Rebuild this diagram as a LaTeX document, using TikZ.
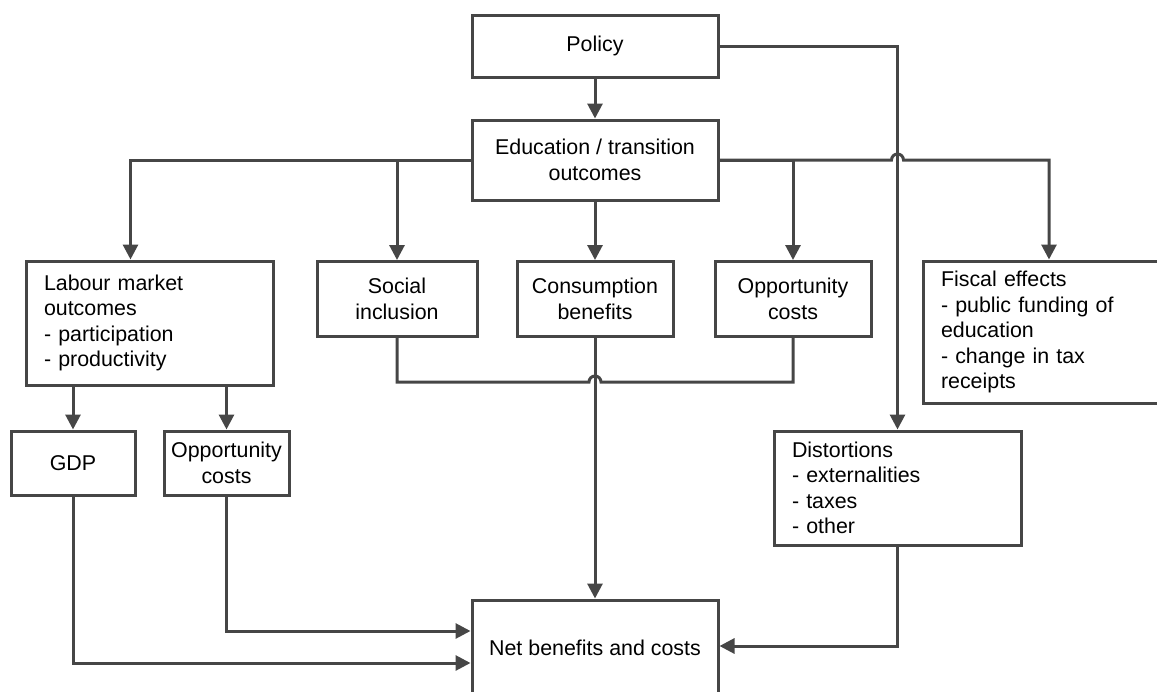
\documentclass[tikz,border=0pt]{standalone}
\usepackage{fontspec}
\setmainfont{Liberation Sans}
\usepackage{xcolor}
\usetikzlibrary{arrows.meta}

\definecolor{linegray}{HTML}{464646}

\begin{document}
\begin{tikzpicture}[x=1pt, y=-1pt,
    box/.style={draw=linegray, line width=3pt, rectangle, inner sep=0pt, align=center,
      font=\fontsize{21.4}{25.5}\selectfont},
    lbox/.style={box, align=left, inner xsep=18pt},
    link/.style={draw=linegray, line width=3pt},
    arr/.style={link, -{Triangle[length=15pt,width=15pt]}}]
  % \draw[help lines, gray!50, very thin] (0,0) grid[step=50] (1157,691);
  \useasboundingbox (0,0) rectangle (1157,691);

  \node[box, minimum width=246, minimum height=62] (policy) at (595,46) {Policy};
  \node[box, minimum width=246, minimum height=80] (edu) at (595,160) {Education / transition\\outcomes};

  \node[lbox, text width=211, minimum height=124] (labour) at (149.5,323)
    {Labour market\\outcomes\\- participation\\- productivity};
  \node[box, minimum width=160, minimum height=75] (social) at (397,299) {Social\\inclusion};
  \node[box, minimum width=156, minimum height=75] (cons) at (595,299) {Consumption\\benefits};
  \node[box, minimum width=156, minimum height=75] (opp) at (793,299) {Opportunity\\costs};
  \node[lbox, text width=216, minimum height=142] (fiscal) at (1049,332)
    {Fiscal effects\\- public funding of\\education\\- change in tax\\receipts};

  \node[box, minimum width=124, minimum height=64] (gdp) at (73,463) {GDP};
  \node[box, minimum width=125, minimum height=64] (oppb) at (226.5,463) {Opportunity\\costs};
  \node[lbox, text width=211, minimum height=114] (dist) at (897.5,488)
    {Distortions\\- externalities\\- taxes\\- other};

  \node[box, minimum width=246, minimum height=96] (net) at (595,648) {Net benefits and costs};

  \coordinate (j1) at (dist.north |- edu.east);
  \coordinate (j2) at (595,382);

  % top part
  \draw[arr] (policy) -- (edu);
  \draw[arr] (policy.east) -| (dist.north);
  \draw[arr] (edu.west) -| ([xshift=-19pt]labour.north);
  \draw[arr] (edu.west) -| (social.north);
  \draw[arr] (edu) -- (cons);
  \draw[arr] (edu.east) -| (opp.north);
  \draw[arr] (edu.east) -- ([xshift=-6pt]j1) arc[start angle=180, end angle=0, radius=6pt]
    -- (j1 -| fiscal.north) -- (fiscal.north);

  % bracket under the middle boxes
  \draw[link] (social.south) |- ([xshift=-6pt]j2) arc[start angle=180, end angle=0, radius=6pt]
    -| (opp.south);

  % lower part
  \draw[arr] (labour.south -| gdp.north) -- (gdp.north);
  \draw[arr] (labour.south -| oppb.north) -- (oppb.north);
  \draw[arr] (cons) -- (net);
  \draw[arr] (gdp.south) |- ([yshift=-15pt]net.west);
  \draw[arr] (oppb.south) |- ([yshift=17pt]net.west);
  \draw[arr] (dist.south) |- ([yshift=2pt]net.east);
\end{tikzpicture}
\end{document}
